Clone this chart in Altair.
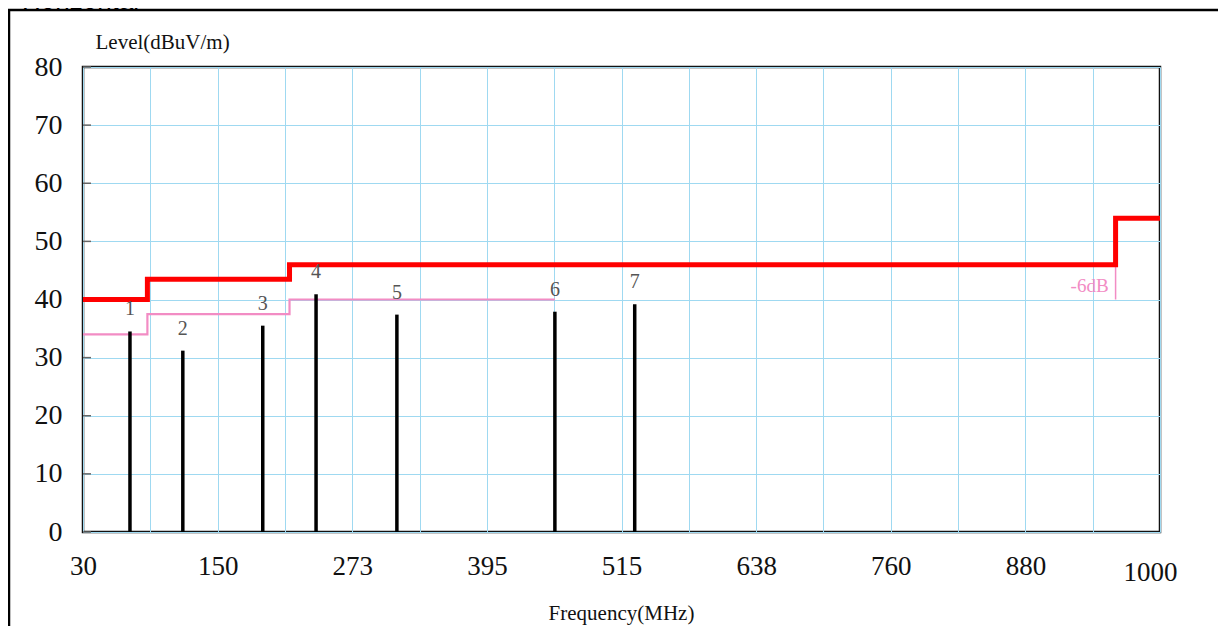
import altair as alt
import pandas as pd

# peaks found in the scan
marker_ids = ["1", "2", "3", "4", "5", "6", "7"]
marker_freq = [72.3, 119.9, 191.9, 239.9, 312.7, 455.0, 526.9]
marker_level = [34.5, 31.2, 35.5, 40.9, 37.4, 37.9, 39.2]

# limit line and the -6dB margin line (both step-after)
limit_freq = [30, 88, 216, 960, 1000]
limit_level = [40, 43.5, 46, 54, 54]
margin_freq = [30, 88, 216, 455]
margin_level = [34, 37.5, 40, 40]
margin_note = "-6dB"

y_ticks = [0, 10, 20, 30, 40, 50, 60, 70, 80]
x_tick_labels = ["30", "150", "273", "395", "515", "638", "760", "880", "1000"]

F_MIN, F_MAX = 30, 1000
STEP = (F_MAX - F_MIN) / 16
x_grid = [F_MIN + i * STEP for i in range(17)]
label_arr = [x_tick_labels[i // 2] if i % 2 == 0 else "" for i in range(17)]
label_expr = (
    "[" + ",".join(f"'{s}'" for s in label_arr) + "]"
    + f"[round((datum.value - {F_MIN}) / {STEP})]"
)

SERIF = "Liberation Serif"
GRID = "#9fd9f1"
PINK = "#f28cc4"

x_scale = alt.Scale(domain=[F_MIN, F_MAX], nice=False, zero=False)
y_scale = alt.Scale(domain=[0, 80], nice=False, zero=True)

markers = pd.DataFrame({"id": marker_ids, "freq": marker_freq, "level": marker_level})
limit = pd.DataFrame({"freq": limit_freq, "level": limit_level})
margin = pd.DataFrame({"freq": margin_freq, "level": margin_level})
note = pd.DataFrame({
    "freq": [limit_freq[3]],
    "level": [limit_level[2] - 6],
    "level2": [limit_level[2]],
    "text": [margin_note],
})
yt = pd.DataFrame({"level": y_ticks})

x_axis = alt.Axis(
    values=x_grid,
    labelExpr=label_expr,
    grid=True,
    gridColor=GRID,
    gridWidth=1,
    domain=False,
    ticks=False,
    tickSize=0,
    labelFont=SERIF,
    labelFontSize=27,
    labelColor="#111",
    labelBaseline="middle",
    labelPadding={"condition": {"test": "datum.value > 990", "value": 40}, "value": 34},
    labelOffset={"condition": {"test": "datum.value > 990", "value": -10}, "value": 0},
    labelOverlap=False,
    labelFlush=False,
    title="Frequency(MHz)",
    titleFont=SERIF,
    titleFontSize=21,
    titleFontWeight="normal",
    titleColor="#111",
    titleBaseline="middle",
    titleX=538,
    titleY=81,
)
y_axis = alt.Axis(
    values=y_ticks,
    grid=True,
    gridColor=GRID,
    gridWidth=1,
    domain=False,
    ticks=False,
    tickSize=0,
    labelFont=SERIF,
    labelFontSize=28,
    labelColor="#111",
    labelPadding=21,
    labelBaseline="middle",
    title="Level(dBuV/m)",
    titleFont=SERIF,
    titleFontSize=21,
    titleFontWeight="normal",
    titleColor="#111",
    titleAngle=0,
    titleAlign="left",
    titleBaseline="middle",
    titleX=12,
    titleY=-25,
)

X = alt.X("freq:Q", scale=x_scale, axis=x_axis)
Y = alt.Y("level:Q", scale=y_scale, axis=y_axis)

bars = (
    alt.Chart(markers)
    .mark_rule(color="black", strokeWidth=3.5)
    .encode(x=X, y=Y, y2=alt.datum(0))
)

bar_labels = (
    alt.Chart(markers)
    .mark_text(font=SERIF, fontSize=20, color="#555", dy=-22, baseline="middle")
    .encode(x=X, y=Y, text="id:N")
)

limit_line = (
    alt.Chart(limit)
    .mark_line(color="#ff0000", strokeWidth=5, interpolate="step-after")
    .encode(x=X, y=Y)
)

margin_line = (
    alt.Chart(margin)
    .mark_line(color=PINK, strokeWidth=2.2, interpolate="step-after")
    .encode(x=X, y=Y)
)

note_rule = (
    alt.Chart(note)
    .mark_rule(color=PINK, strokeWidth=1.5)
    .encode(x=X, y=Y, y2="level2:Q")
)

note_text = (
    alt.Chart(note)
    .mark_text(font=SERIF, fontSize=19, color=PINK, align="right", baseline="middle", dx=-7, dy=-14)
    .encode(x=X, y=Y, text="text:N")
)

inner_ticks = (
    alt.Chart(yt)
    .mark_rule(color="#666", strokeWidth=1.5)
    .encode(x=alt.value(0), x2=alt.value(8), y=Y)
)

frame = (
    alt.Chart(pd.DataFrame({"k": [0]}))
    .mark_rect(fillOpacity=0, stroke="black", strokeWidth=2.5)
    .encode(x=alt.value(-74), x2=alt.value(3000), y=alt.value(-57), y2=alt.value(3000))
)

heading = (
    alt.Chart(pd.DataFrame({"t": ["Horizontal"]}))
    .mark_text(font="Liberation Sans", fontSize=26, color="black", align="left", baseline="alphabetic")
    .encode(x=alt.value(-61), y=alt.value(-58), text="t:N")
)

chart = (
    alt.layer(
        frame, inner_ticks, note_rule, margin_line, limit_line, bars, bar_labels, note_text, heading
    )
    .properties(
        width=1077,
        height=465,
        autosize=alt.AutoSizeParams(type="none"),
        padding={"left": 75, "top": 59, "right": 58, "bottom": 94},
        background="white",
    )
    .configure_view(stroke="#111", strokeWidth=2.5)
)

chart.save("out.html", embed_options={"renderer": "svg", "actions": False})
